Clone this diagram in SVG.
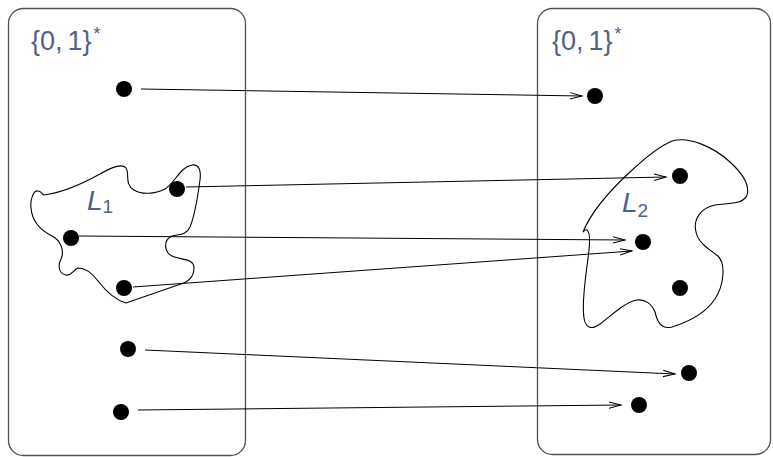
<svg xmlns="http://www.w3.org/2000/svg" width="773" height="457" viewBox="0 0 773 457">
<style>
.box{fill:none;stroke:#505050;stroke-width:1.3}
.blob{fill:none;stroke:#000;stroke-width:1.1}
.dot{fill:#000}
.lbl{font-family:"Liberation Sans",Arial,sans-serif;fill:#52618a}
.conn line{stroke:#000;stroke-width:1;marker-end:url(#arr)}
</style>
<defs>
<marker id="arr" markerUnits="userSpaceOnUse" markerWidth="14" markerHeight="10" refX="12" refY="4" orient="auto" viewBox="0 0 14 8">
<path d="M0,0.8 L12,4 L0,7.2" fill="none" stroke="#000" stroke-width="1"/>
</marker>
</defs>
<g id="domain">
<rect class="box" x="8.5" y="8.5" width="237" height="447" rx="15"/>
<text class="lbl" x="31" y="50" font-size="27">{0,<tspan dx="5">1}</tspan><tspan dx="2" dy="-10" font-size="18">*</tspan></text>
</g>
<g id="codomain">
<rect class="box" x="537.5" y="8.5" width="233" height="446" rx="15"/>
<text class="lbl" x="552" y="50" font-size="27">{0,<tspan dx="5">1}</tspan><tspan dx="2" dy="-10" font-size="18">*</tspan></text>
</g>
<g id="L1">
<path class="blob" d="M44,195 C60,193 80,185 100,174 C112,167 122,163 126,168 C130,174 124,184 134,190 C142,195 155,194 165,189 C175,183 180,167 192,165 C200,164 201,172 200,180 C198,195 195,215 190,227 C186,236 178,234 172,236 C163,240 164,252 172,256 C180,260 194,258 194,268 C194,278 186,283 178,285 L126,303 C115,300 105,290 98,281 C92,273 85,268 78,268 C73,270 72,276 66,275 C58,273 58,265 61,259 C65,250 60,240 52,236 C40,230 32,220 31,208 C30,198 34,190 38,191 C41,191 42,194 44,195 Z"/>
<text class="lbl" x="87" y="210" font-size="28" font-style="italic">L<tspan dy="3" font-size="19" font-style="normal">1</tspan></text>
</g>
<g id="L2">
<path class="blob" d="M583,232 C590,215 605,195 630,172 C645,158 660,146 672,141 C690,136 715,148 730,162 C742,173 750,185 747,195 C743,205 728,203 715,205 C700,208 693,220 696,232 C698,243 710,250 718,256 C726,264 724,285 715,299 C705,314 688,322 672,327 C660,330 657,320 655,312 C652,304 645,299 637,300 C625,302 612,315 600,324 C593,329 586,330 584,318 C581,300 587,270 589,250 C590,240 590,232 587,230 C585,229 584,231 583,232 Z"/>
<text class="lbl" x="622" y="212" font-size="28" font-style="italic">L<tspan dy="5" font-size="19" font-style="normal">2</tspan></text>
</g>
<g id="left-points">
<circle class="dot" cx="124" cy="89" r="8"/>
<circle class="dot" cx="177" cy="189" r="8"/>
<circle class="dot" cx="71" cy="238" r="8"/>
<circle class="dot" cx="124" cy="288" r="8"/>
<circle class="dot" cx="128" cy="349" r="8"/>
<circle class="dot" cx="121" cy="412" r="8"/>
</g>
<g id="right-points">
<circle class="dot" cx="595" cy="96" r="8"/>
<circle class="dot" cx="680" cy="176" r="8"/>
<circle class="dot" cx="643" cy="242" r="8"/>
<circle class="dot" cx="680" cy="288" r="8"/>
<circle class="dot" cx="689" cy="373" r="8"/>
<circle class="dot" cx="639" cy="405" r="8"/>
</g>
<g id="connectors" class="conn">
<line x1="141" y1="89" x2="582" y2="96"/>
<line x1="186" y1="187" x2="666" y2="177"/>
<line x1="79" y1="236" x2="625" y2="240"/>
<line x1="133" y1="287" x2="632" y2="251"/>
<line x1="145" y1="350" x2="675" y2="374"/>
<line x1="138" y1="410" x2="621" y2="405"/>
</g>
</svg>
